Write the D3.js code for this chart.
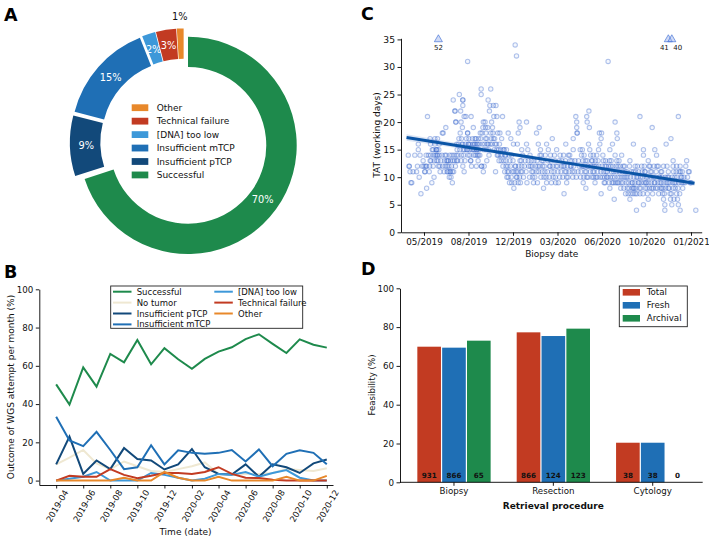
<!DOCTYPE html>
<html><head><meta charset="utf-8">
<script src="https://cdn.jsdelivr.net/npm/d3@7"></script>
<style>
body{margin:0;background:#fff}
svg{display:block}
text{font-family:"DejaVu Sans",sans-serif}
</style>
</head><body>
<svg id="c" width="709" height="537"></svg>
<script>
// ===================== DATA =====================
// Panel A: overall outcome of WGS attempts (%)
const outcomeCategories = ["Successful","Insufficient pTCP","Insufficient mTCP","[DNA] too low","Technical failure","Other"];
const outcomePercent = [70, 9, 15, 2, 3, 1];
const outcomeColors = ["#1e8a4c","#12497a","#1f6fb5","#3d98d9","#c23b22","#e8882a"];
const legendAOrder = ["Other","Technical failure","[DNA] too low","Insufficient mTCP","Insufficient pTCP","Successful"];

// Panel B: monthly outcome (%)
const months = ["2019-04","2019-05","2019-06","2019-07","2019-08","2019-09","2019-10","2019-11","2019-12",
  "2020-01","2020-02","2020-03","2020-04","2020-05","2020-06","2020-07","2020-08","2020-09","2020-10","2020-11","2020-12"];
const successful   = [50.3,39.7,59.2,49.1,66.2,61.8,73.5,60.8,69.2,63.4,58.4,63.6,67.4,69.7,74.0,76.5,71.5,66.7,73.8,71.0,69.5];
const noTumor      = [8.5,12.0,16.0,9.0,6.0,10.0,7.5,5.0,4.5,6.0,7.5,9.5,3.5,3.0,3.5,3.5,4.0,6.0,5.5,5.0,6.5];
const insuffPTCP   = [8.5,23.0,3.5,10.5,6.0,17.0,11.3,10.5,5.8,8.5,16.5,7.0,3.5,3.2,8.5,2.0,8.5,7.0,4.0,9.0,11.0];
const insuffMTCP   = [33.4,21.0,18.0,25.5,16.0,6.0,7.0,18.5,8.5,15.8,14.5,14.0,14.5,16.0,10.0,16.3,7.5,14.0,15.8,14.5,8.5];
const dnaTooLow    = [0,1.0,2.0,4.5,0,0,0,4.0,3.0,1.5,0,1.0,3.5,3.0,4.5,2.0,4.0,5.5,1.5,0,0];
const techFailure  = [0,2.5,2.0,2.0,6.0,3.0,1.3,2.5,4.0,4.0,3.5,4.5,7.0,3.5,1.5,1.3,0.5,0,0,0,0];
const otherOutcome = [0,0,0,0,0,1.5,0,0,4.5,1.5,0,0,2.0,0,0,0,0,2.0,0,0,2.5];
const seriesBNames  = ["Successful","No tumor","Insufficient pTCP","Insufficient mTCP","[DNA] too low","Technical failure","Other"];
const seriesBColors = ["#1e8a4c","#efe8d2","#12497a","#1f6fb5","#3d98d9","#c23b22","#e8882a"];
const seriesBValues = [successful,noTumor,insuffPTCP,insuffMTCP,dnaTooLow,techFailure,otherOutcome];
const monthTickLabels = ["2019-04","2019-06","2019-08","2019-10","2019-12","2020-02","2020-04","2020-06","2020-08","2020-10","2020-12"];
const bYTicks = [0,20,40,60,80,100];
const bXLimits = ["2019-02-22","2020-12-15"];

// Panel C: turnaround time (working days) vs biopsy date (day offset from 2019-04-01)
const cStartDate = "2019-04-01";
const tatPoints = [
 [8,14],[10,12],[10,12],[12,11],[14,9],[16,9],[19,11],[23,14],[27,11],[29,12],[31,16],[31,15],[33,10],[35,14],[37,7],[40,12],[42,13],[44,12],[46,11],[46,11],[48,12],[49,14],[50,12],[50,8],[52,21],[54,14],[56,11],[57,12],[58,13],[58,17],[59,16],[59,14],[60,13],[62,9],[63,15],[65,15],[65,12],[66,14],[67,10],[68,13],[69,17],[69,16],[70,14],[72,15],[72,15],[73,13],[73,14],[74,15],[75,14],[75,17],[76,13],[77,12],[78,15],[79,14],[79,16],[80,12],[81,11],[83,13],[85,14],[86,18],[87,12],[88,18],[90,11],[91,13],[92,14],[93,12],[94,19],[95,14],[96,13],[97,12],[97,11],[98,13],[99,11],[100,13],[101,12],[102,10],[103,14],[104,11],[104,11],[105,13],[106,10],[107,12],[108,14],[109,9],[109,11],[110,13],[111,24],[112,11],[113,14],[114,13],[115,22],[115,22],[116,12],[117,20],[117,20],[118,14],[119,16],[119,13],[120,15],[121,13],[122,14],[123,16],[124,17],
 [125,25],[126,15],[127,18],[128,22],[129,20],[129,13],[130,17],[130,14],[131,16],[132,19],[133,24],[133,24],[133,23],[133,16],[133,12],[134,15],[135,14],[136,11],[136,21],[137,15],[138,13],[139,16],[140,21],[141,17],[142,15],[143,15],[144,31],[144,18],[144,18],[145,14],[146,16],[146,16],[147,17],[148,15],[149,14],[150,16],[151,13],[151,13],[152,21],[153,12],[154,15],[155,17],[156,16],[157,19],[157,15],[158,14],[159,16],[160,15],[161,17],[161,16],[162,14],[163,17],[164,12],[165,16],[165,15],[165,15],[166,14],[167,16],[168,13],[169,14],[169,17],[170,15],[171,16],[172,14],[173,18],[174,17],[175,26],[175,25],[176,12],[176,12],[177,18],[178,16],[179,19],[180,11],[180,20],[181,15],[182,12],[183,16],[184,20],[185,19],[185,17],[186,18],[187,15],[188,17],[188,13],[189,16],[190,19],[191,24],[191,16],[192,15],[193,14],[194,22],[195,23],[196,16],[197,26],[197,18],[198,17],[199,20],[200,16],[201,19],[202,18],[203,17],[203,23],[204,21],[205,15],[206,17],[207,16],[208,11],[209,23],[210,16],[211,21],[211,15],[212,14],[213,18],[214,14],[215,15],[216,13],[217,16],[218,18],[219,14],[220,15],[221,13],[222,17],[223,14],[224,21],[225,12],[226,15],[227,13],[228,15],[229,11],[230,14],[231,14],[232,12],[232,13],[233,15],[234,10],[235,11],[236,12],[237,18],[237,10],[238,11],[239,14],[240,9],[241,13],[242,12],[243,17],[244,10],[245,14],[245,9],[246,11],[248,13],[249,16],[250,8],[250,11],[252,9],[253,34],[253,12],[254,12],[255,11],[256,32],[256,10],[257,10],[258,16],[259,11],[260,18],[260,9],[261,12],[262,20],[263,10],[264,19],[264,13],[265,9],[266,11],[267,13],[268,15],[268,12],[269,11],[270,14],[272,10],[274,12],[276,13],[278,11],
 [279,16],[279,20],[280,9],[282,15],[283,13],[284,12],[286,10],[287,14],[288,12],[290,13],[291,11],[292,12],[293,10],[294,11],[295,9],[296,13],[298,10],[300,12],[302,11],[302,18],[303,13],[304,9],[305,12],[306,16],[307,11],[308,19],[309,12],[310,14],[311,15],[312,10],[313,14],[314,13],[315,11],[316,12],[317,13],[318,8],[319,10],[320,12],[321,11],[322,14],[324,10],[325,9],[325,16],[327,11],[328,13],[329,15],[331,10],[332,12],[333,12],[334,14],[335,13],[336,9],[337,11],[338,17],[339,12],[340,10],[342,11],[343,14],[344,13],[345,10],[346,9],[347,12],[348,15],[350,12],[351,11],[352,9],[354,13],[355,10],[356,14],[358,11],[359,12],[360,13],[362,10],[363,12],[364,14],[365,7],[366,12],[367,11],[368,13],[369,16],[370,11],[371,10],[371,9],[373,12],[374,10],[375,14],[377,11],[378,14],[379,13],[380,12],[381,12],[383,13],[384,11],[385,10],[386,15],[386,17],[387,12],[389,11],[390,13],[392,21],[393,10],[394,20],[394,19],[395,18],[395,18],[397,11],[398,13],[400,12],
 [402,15],[403,10],[404,11],[405,14],[406,12],[407,15],[408,13],[409,12],[409,9],[410,10],[411,14],[412,12],[413,11],[414,13],[415,8],[416,11],[417,10],[417,21],[418,20],[418,13],[419,12],[420,10],[421,16],[421,12],[422,22],[423,19],[424,15],[425,11],[426,14],[427,12],[428,13],[429,10],[430,13],[431,11],[432,12],[432,14],[433,10],[434,11],[435,12],[436,9],[437,13],[438,10],[439,12],[440,14],[441,10],[442,11],[443,13],[444,15],[445,12],[446,18],[447,16],[448,10],[449,11],[450,17],[450,7],[451,18],[452,12],[453,10],[454,14],[455,13],[456,11],[457,9],[458,10],[459,12],[459,9],[460,13],[461,11],[462,12],[463,10],[464,11],[465,10],[466,31],[467,12],[468,9],[469,13],[470,8],[470,15],[471,10],[472,12],[473,13],[474,11],[475,9],[476,10],[476,16],[477,12],[478,9],[479,11],[480,6],[481,10],[482,14],[482,20],[483,9],[484,12],[485,11],[486,13],[486,18],[487,17],[487,9],[488,10],[489,12],[490,9],[491,13],[492,11],[493,10],[494,12],[495,8],[496,9],[497,14],[498,10],[499,11],[500,9],[501,12],
 [502,8],[503,10],[504,12],[505,11],[506,7],[507,10],[508,9],[509,11],[510,8],[511,10],[512,7],[513,9],[514,8],[515,12],[516,13],[516,6],[517,10],[518,7],[519,11],[520,9],[521,8],[522,9],[523,7],[524,16],[524,8],[524,11],[525,10],[526,8],[527,9],[528,7],[528,12],[529,11],[530,8],[531,10],[531,4],[532,7],[533,12],[534,10],[535,9],[536,11],[537,9],[538,8],[539,7],[539,21],[540,10],[541,8],[542,9],[543,12],[544,11],[545,10],[546,7],[547,15],[547,14],[547,5],[548,9],[549,12],[550,11],[551,11],[551,8],[552,9],[553,10],[554,9],[555,8],[556,7],[557,10],[558,6],[558,13],[559,9],[560,12],[561,8],[562,12],[563,11],[564,10],[565,9],[566,11],[566,8],[567,19],[568,7],[569,8],[570,10],[571,12],[572,9],[573,9],[573,15],[574,10],[575,8],[576,11],
 [577,14],[578,12],[579,8],[580,9],[581,12],[582,7],[583,10],[584,10],[585,9],[586,8],[587,11],[588,9],[589,8],[589,11],[590,10],[591,7],[592,8],[593,6],[593,12],[594,9],[595,7],[596,5],[596,4],[597,10],[598,8],[599,16],[600,9],[601,12],[602,10],[603,9],[604,8],[604,11],[605,10],[606,8],[607,9],[608,7],[609,6],[610,17],[611,7],[612,5],[613,10],[614,9],[615,13],[615,12],[615,8],[616,11],[617,6],[618,9],[619,10],[620,8],[621,9],[622,11],[623,7],[623,12],[624,10],[625,6],[626,8],[627,5],[627,21],[628,9],[629,11],[630,7],[631,4],[631,12],[632,11],[633,10],[634,9],[635,10],[636,11],[637,8],[638,9],[640,10],[642,9],[644,12],[646,13],[648,10],[650,11],[652,11],[654,9],[656,9],[667,4]
];
// Values beyond the y-axis limit (shown as triangles at the top with their true value)
const tatOutliers = [[77,52],[604,41],[612,40]];
const tatCap = 35;
// Linear regression fit and its confidence band half-width
const regressionDays = [4, 334, 664];
const regressionFit  = [17.2, 13.05, 8.9];
const regressionCI   = [0.6, 0.25, 0.45];
const cXTickDays = [44,146,248,350,452,554,656];
const cXTickLabels = ["05/2019","08/2019","12/2019","03/2020","06/2020","10/2020","01/2021"];
const cXLimits = [-8.7, 680.5];
const cYTicks = [0,5,10,15,20,25,30,35];
const cYLimits = [0, 35.2];

// Panel D: feasibility by retrieval procedure
const procedures = ["Biopsy","Resection","Cytology"];
const sampleTypes = ["Total","Fresh","Archival"];
const sampleColors = ["#c23b22","#1f6fb5","#1e8a4c"];
const feasTotal    = [69.9, 77.3, 20.4];
const feasFresh    = [69.4, 75.4, 20.4];
const feasArchival = [73.0, 79.2, 0];
const nTotal    = [931, 866, 38];
const nFresh    = [866, 124, 38];
const nArchival = [65, 123, 0];
const dYTicks = [0,20,40,60,80,100];

// ===================== DRAWING =====================
const svg = d3.select("#c");
const FONT = "DejaVu Sans";

function styleAxis(g, fs){
  g.attr("font-family", FONT).attr("font-size", fs);
  g.selectAll("path.domain").attr("stroke","#000").attr("stroke-width",0.9);
  g.selectAll(".tick line").attr("stroke","#000").attr("stroke-width",0.9);
  g.selectAll(".tick text").attr("fill","#111");
}
function panelLetter(t, x, y){
  svg.append("text").attr("x",x).attr("y",y).text(t)
    .attr("font-family","Liberation Sans, Arial, sans-serif").attr("font-weight","bold")
    .attr("font-size",17.5).attr("fill","#000");
}

// ---------- Panel A ----------
(function(){
  const cx = 183.8, cy = 142.3, R = 108.7, rIn = R*0.72, explode = 5.2;
  const g = svg.append("g").attr("transform",`translate(${cx},${cy})`);
  const data = outcomeCategories.map((c,i)=>({c, v:outcomePercent[i], col:outcomeColors[i]}));
  const pie = d3.pie().sort(null).value(d=>d.v).startAngle(0).endAngle(2*Math.PI);
  const arc = d3.arc().innerRadius(rIn).outerRadius(R);
  pie(data).forEach(a=>{
    const m = (a.startAngle+a.endAngle)/2;
    const dx = explode*Math.sin(m), dy = -explode*Math.cos(m);
    g.append("path").attr("d",arc(a)).attr("fill",a.data.col).attr("transform",`translate(${dx},${dy})`);
    const small = a.data.v < 2;
    const lr = (small ? R*1.11 : R*0.85) + explode;
    g.append("text").attr("x",lr*Math.sin(m)).attr("y",-lr*Math.cos(m))
      .attr("text-anchor","middle").attr("dominant-baseline","central")
      .attr("font-size",9.8).attr("fill", small ? "#111" : "#fff")
      .text(d3.format(".0f")(a.data.v)+"%");
  });
  // legend
  const lg = svg.append("g");
  legendAOrder.forEach((name,i)=>{
    const y = 107.7 + i*13.45;
    const col = outcomeColors[outcomeCategories.indexOf(name)];
    lg.append("rect").attr("x",131.7).attr("y",y-3.4).attr("width",16.6).attr("height",6.8).attr("fill",col);
    lg.append("text").attr("x",156.7).attr("y",y).attr("dominant-baseline","central")
      .attr("font-size",9).attr("fill","#111").text(name);
  });
  panelLetter("A", 4, 21);
})();

// ---------- Panel B ----------
(function(){
  const parse = d3.utcParse("%Y-%m");
  const parseD = d3.utcParse("%Y-%m-%d");
  const x = d3.scaleUtc().domain(bXLimits.map(parseD)).range([39.3, 333]);
  const y = d3.scaleLinear().domain([-2.3, 100]).range([485, 289.3]);
  const line = d3.line().x((d,i)=>x(parse(months[i]))).y(d=>y(d));
  seriesBValues.forEach((vals,k)=>{
    svg.append("path").attr("d",line(vals)).attr("fill","none")
      .attr("stroke",seriesBColors[k]).attr("stroke-width",2).attr("stroke-linejoin","miter");
  });
  const ya = svg.append("g").attr("transform","translate(39.3,0)")
    .call(d3.axisLeft(y).tickValues(bYTicks).tickSize(3.5).tickPadding(2.5).tickSizeOuter(0));
  styleAxis(ya, 8.7);
  const xa = svg.append("g").attr("transform","translate(0,485)")
    .call(d3.axisBottom(x).tickValues(monthTickLabels.map(parse)).tickSize(3.5).tickSizeOuter(0).tickFormat(d3.utcFormat("%Y-%m")));
  styleAxis(xa, 8.5);
  xa.selectAll(".tick text").attr("y",0).attr("dy",0)
    .attr("transform","translate(0.5,21) rotate(-60)")
    .attr("text-anchor","middle").attr("dominant-baseline","central");
  svg.append("text").attr("transform","translate(10.5,387) rotate(-90)")
    .attr("text-anchor","middle").attr("dominant-baseline","central")
    .attr("font-size",9).attr("fill","#111").text("Outcome of WGS attempt per month (%)");
  svg.append("text").attr("x",185.5).attr("y",531.5).attr("text-anchor","middle").attr("dominant-baseline","central")
    .attr("font-size",9).attr("fill","#111").text("Time (date)");
  // legend
  const lg = svg.append("g");
  lg.append("rect").attr("x",110.7).attr("y",286).attr("width",192).attr("height",42.3)
    .attr("fill","#fff").attr("stroke","#222").attr("stroke-width",0.9);
  seriesBNames.forEach((name,k)=>{
    const col = k < 4 ? 0 : 1, row = k < 4 ? k : k-4;
    const x0 = col ? 214.3 : 113, yy = 291.7 + row*10.9;
    lg.append("line").attr("x1",x0).attr("x2",x0+18.5).attr("y1",yy).attr("y2",yy)
      .attr("stroke",seriesBColors[k]).attr("stroke-width",2);
    lg.append("text").attr("x",x0+23.7).attr("y",yy).attr("dominant-baseline","central")
      .attr("font-size",8.5).attr("fill","#111").text(name);
  });
  panelLetter("B", 4, 277.5);
})();

// ---------- Panel C ----------
(function(){
  const x = d3.scaleLinear().domain(cXLimits).range([401, 701.7]);
  const y = d3.scaleLinear().domain(cYLimits).range([232.3, 38.3]);
  // points
  svg.append("g").selectAll("circle").data(tatPoints).join("circle")
    .attr("cx",d=>x(d[0])).attr("cy",d=>y(d[1])).attr("r",2.2)
    .attr("fill","rgba(120,150,225,0.08)").attr("stroke","rgba(40,90,200,0.36)").attr("stroke-width",1.05);
  // regression band + line
  const band = d3.area().x((d,i)=>x(regressionDays[i])).y0((d,i)=>y(d-regressionCI[i])).y1((d,i)=>y(d+regressionCI[i]));
  svg.append("path").attr("d",band(regressionFit)).attr("fill","rgba(60,110,200,0.18)");
  const rl = d3.line().x((d,i)=>x(regressionDays[i])).y(d=>y(d));
  svg.append("path").attr("d",rl(regressionFit)).attr("fill","none").attr("stroke","#0b55a6").attr("stroke-width",3);
  // outliers
  const tri = d3.symbol().type(d3.symbolTriangle).size(28);
  tatOutliers.forEach((o,i)=>{
    const px = x(o[0]), py = y(tatCap);
    svg.append("path").attr("d",tri()).attr("transform",`translate(${px},${py})`)
      .attr("fill","rgba(150,175,235,0.45)").attr("stroke","rgba(50,100,210,0.6)").attr("stroke-width",1);
    const prev = tatOutliers[i-1], next = tatOutliers[i+1];
    let anchor = "middle", dx = 0;
    if (next && next[0]-o[0] < 15) { anchor = "end"; dx = 0.5; }
    else if (prev && o[0]-prev[0] < 15) { anchor = "start"; dx = 1.5; }
    svg.append("text").attr("x",px+dx).attr("y",py+8.5).attr("text-anchor",anchor)
      .attr("dominant-baseline","central").attr("font-size",7).attr("fill","#111").text(o[1]);
  });
  const ya = svg.append("g").attr("transform","translate(401,0)")
    .call(d3.axisLeft(y).tickValues(cYTicks).tickSize(3.5).tickPadding(2.5).tickSizeOuter(0));
  styleAxis(ya, 9.2);
  const xa = svg.append("g").attr("transform","translate(0,232.3)")
    .call(d3.axisBottom(x).tickValues(cXTickDays).tickSize(3.5).tickPadding(2.5).tickSizeOuter(0)
      .tickFormat((d,i)=>cXTickLabels[i]));
  styleAxis(xa, 8.8);
  svg.append("text").attr("transform","translate(377,135) rotate(-90)")
    .attr("text-anchor","middle").attr("dominant-baseline","central")
    .attr("font-size",9).attr("fill","#111").text("TAT (working days)");
  svg.append("text").attr("x",551.7).attr("y",254.3).attr("text-anchor","middle").attr("dominant-baseline","central")
    .attr("font-size",9).attr("fill","#111").text("Biopsy date");
  panelLetter("C", 361, 19.5);
})();

// ---------- Panel D ----------
(function(){
  const x0 = d3.scaleBand().domain(procedures).range([404.3, 702.4]).padding(0);
  const x1 = d3.scaleBand().domain(sampleTypes).range([0, 74.5]);
  const y = d3.scaleLinear().domain([0,100]).range([482.3, 288.3]);
  const vals = [feasTotal, feasFresh, feasArchival];
  const ns = [nTotal, nFresh, nArchival];
  procedures.forEach((p,i)=>{
    const gx = x0(p) + x0.bandwidth()/2 - 37.25;
    sampleTypes.forEach((s,k)=>{
      const bx = gx + x1(s);
      const v = vals[k][i];
      if (v > 0) {
        svg.append("rect").attr("x",bx+0.6).attr("y",y(v)).attr("width",x1.bandwidth()-1.2)
          .attr("height",y(0)-y(v)).attr("fill",sampleColors[k]);
      }
      svg.append("text").attr("x",bx+x1.bandwidth()/2).attr("y",475.7)
        .attr("text-anchor","middle").attr("dominant-baseline","central")
        .attr("font-size",7.2).attr("font-weight","bold").attr("fill","#111").text(ns[k][i]);
    });
  });
  const ya = svg.append("g").attr("transform","translate(400,0)")
    .call(d3.axisLeft(y).tickValues(dYTicks).tickSize(3.5).tickPadding(2.5).tickSizeOuter(0));
  styleAxis(ya, 8.7);
  const xa = svg.append("g").attr("transform","translate(0,482.3)")
    .call(d3.axisBottom(x0).tickSize(3.5).tickPadding(2.5).tickSizeOuter(0));
  styleAxis(xa, 8.7);
  xa.select("path.domain").remove();
  svg.append("line").attr("x1",400).attr("x2",702.7).attr("y1",482.3).attr("y2",482.3)
    .attr("stroke","#000").attr("stroke-width",0.9);
  svg.append("text").attr("transform","translate(371.7,385) rotate(-90)")
    .attr("text-anchor","middle").attr("dominant-baseline","central")
    .attr("font-size",8.7).attr("fill","#111").text("Feasibility (%)");
  svg.append("text").attr("x",553.3).attr("y",505.7).attr("text-anchor","middle").attr("dominant-baseline","central")
    .attr("font-size",9).attr("font-weight","bold").attr("fill","#111").text("Retrieval procedure");
  // legend
  const lg = svg.append("g");
  lg.append("rect").attr("x",619.3).attr("y",286).attr("width",68).attr("height",40.7)
    .attr("fill","#fff").attr("stroke","#222").attr("stroke-width",0.9);
  sampleTypes.forEach((s,k)=>{
    const yy = 292.3 + k*13;
    lg.append("rect").attr("x",622.7).attr("y",yy-3.3).attr("width",17.3).attr("height",6.6).attr("fill",sampleColors[k]);
    lg.append("text").attr("x",646.7).attr("y",yy).attr("dominant-baseline","central")
      .attr("font-size",8.7).attr("fill","#111").text(s);
  });
  panelLetter("D", 361, 275);
})();
</script>
</body></html>
